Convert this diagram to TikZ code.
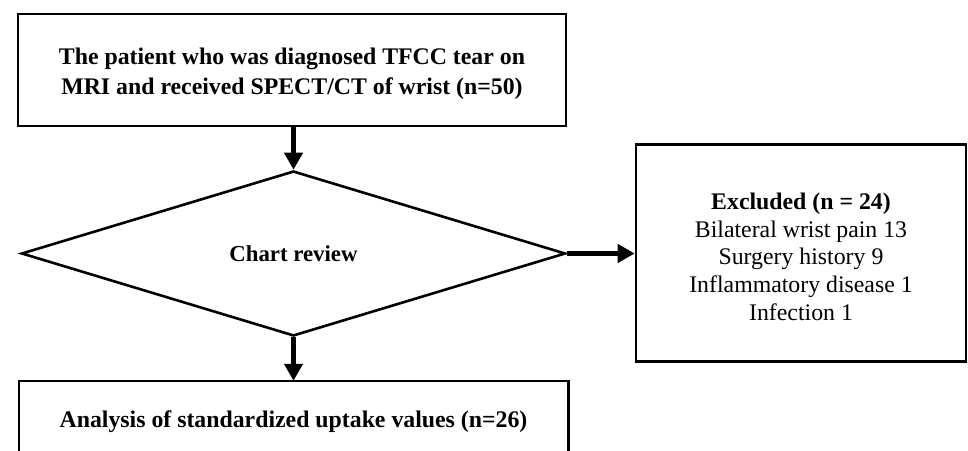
\documentclass[tikz,border=0pt]{standalone}
\usepackage{fontspec}
\setmainfont{Liberation Serif}
\usetikzlibrary{shapes.geometric,arrows.meta}
\begin{document}
\begin{tikzpicture}[x=1pt,y=-1pt,
  box/.style={draw,line width=2.6pt,inner sep=0pt,align=center},
  flow/.style={line width=5.5pt,-{Triangle[length=17pt,width=18pt]}},
  txt/.style={font=\fontsize{23.8}{27.7}\selectfont}]
\useasboundingbox (0,0) rectangle (968,450);
\node[box,font=\fontsize{23.8}{30}\selectfont\bfseries,minimum width=548pt,minimum height=112pt] (top) at (292,70)
  {\rule{0pt}{24pt}The patient who was diagnosed TFCC tear on\\MRI and received SPECT/CT of wrist (n=50)};
\node[diamond,draw,line width=2.6pt,inner sep=0pt,aspect=3.3,minimum width=544pt,minimum height=165pt,
  font=\fontsize{22.8}{27.5}\selectfont\bfseries] (rev) at (293.5,253.5) {Chart review};
\node[box,txt,minimum width=330pt,minimum height=217pt] (exc) at (801,253)
  {\rule{0pt}{24pt}\textbf{Excluded (n = 24)}\\Bilateral wrist pain 13\\Surgery history 9\\Inflammatory disease 1\\Infection 1};
\node[inner sep=0pt,minimum width=549pt,minimum height=82pt,font=\fontsize{23.8}{27.5}\selectfont\bfseries] (ana) at (293.5,422)
  {Analysis of standardized uptake values (n=26)};
\draw[line width=2.6pt] (ana.south west) -- (ana.north west) -- (ana.north east) -- (ana.south east);
\draw[flow] (top.south -| rev.north) -- (rev.north);
\draw[flow] (rev.east) -- (exc.west |- rev.east);
\draw[flow] (rev.south) -- (rev.south |- ana.north);
\end{tikzpicture}
\end{document}
